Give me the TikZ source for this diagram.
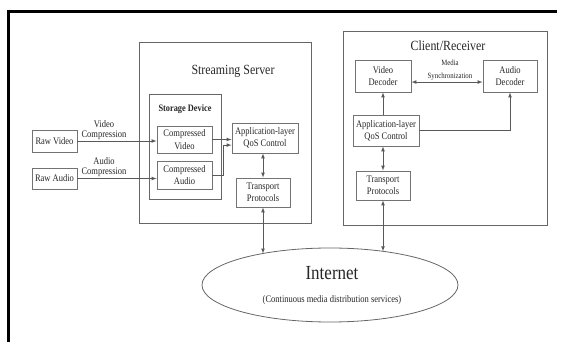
\documentclass[tikz,border=0pt]{standalone}
\usepackage{fontspec}
\setmainfont{Liberation Serif}[FakeStretch=0.85]
\usetikzlibrary{arrows,shapes.geometric}

\begin{document}
\begin{tikzpicture}[x=1pt,y=-1pt,>=latex,
  blk/.style={draw=black!55,line width=0.8pt,inner sep=0pt,align=center,text=black!85,font=\fontsize{10}{12.3}\selectfont},
  lbl/.style={align=center,inner sep=0pt,text=black!85,font=\fontsize{10}{9.5}\selectfont},
  lnk/.style={draw=black!65,line width=0.7pt},
  ttl/.style={inner sep=0pt,text=black!85,font=\fontsize{14}{16}\selectfont}]
\useasboundingbox (0,0) rectangle (563,342);
\draw[line width=3pt] (8,342) -- (8,12) -- (557,12);
\draw[black!60,line width=0.8pt] (139,42) rectangle (311,223);
\draw[black!60,line width=0.8pt] (149,94) rectangle (221,199);
\draw[black!60,line width=0.8pt] (343,31) rectangle (547,225);
\node[ttl] (ttls) at (233,71) {Streaming Server};
\node[ttl] (ttlc) at (448,46) {Client/Receiver};
\node[lbl,font=\fontsize{9.8}{10}\selectfont\bfseries] (store) at (185,109) {Storage Device};
\node[blk,minimum width=45,minimum height=22] (rawv) at (54.5,141) {Raw Video};
\node[blk,minimum width=45,minimum height=21] (rawa) at (54.5,178.5) {Raw Audio};
\node[blk,minimum width=55,minimum height=27] (compv) at (184.5,139.5) {Compressed\\Video};
\node[blk,minimum width=55,minimum height=28] (compa) at (184.5,175) {Compressed\\Audio};
\node[lbl] (lblv) at (104,130) {Video\\Compression};
\node[lbl] (lbla) at (104,167) {Audio\\Compression};
\node[blk,minimum width=66,minimum height=30] (apps) at (265,138) {Application-layer\\QoS Control};
\node[blk,minimum width=54,minimum height=29] (transs) at (263,192.5) {Transport\\Protocols};
\node[blk,minimum width=56,minimum height=32] (vdec) at (383,76) {Video\\Decoder};
\node[blk,minimum width=54,minimum height=32] (adec) at (510,76) {Audio\\Decoder};
\node[lbl,font=\fontsize{8}{13}\selectfont] (sync) at (450,70) {Media\\Synchronization};
\node[blk,minimum width=66,minimum height=31] (appc) at (386,130.5) {Application-layer\\QoS Control};
\node[blk,minimum width=54,minimum height=29] (transc) at (383,185.5) {Transport\\Protocols};
\node[ellipse,draw=black!60,line width=0.8pt,minimum width=256,minimum height=74,inner sep=0pt] (net) at (330,285) {};
\node[inner sep=0pt,text=black!85,font=\fontsize{20}{22}\selectfont] (nett) at (332,273) {Internet};
\node[inner sep=0pt,text=black!85,font=\fontsize{10}{12}\selectfont] (netd) at (332,300) {(Continuous media distribution services)};
\coordinate (nets) at (263,253.5);
\coordinate (netc) at (383,251.3);
\draw[lnk,->] (rawv.east) -- (rawv.east -| compv.west);
\draw[lnk,->] (rawa.east) -- (rawa.east -| compa.west);
\draw[lnk,->] (compv.east) -- (compv.east -| apps.west);
\draw[lnk,->] (compa.east) -- (223,175) |- (apps.192);
\draw[lnk,<->] (transs.north) -- (transs.north |- apps.south);
\draw[lnk,<->] (transs.south) -- (nets);
\draw[lnk,<->] (vdec.-12) -- (vdec.-12 -| adec.west);
\draw[lnk,->] (vdec.south |- appc.north) -- (vdec.south);
\draw[lnk,->] (appc.east) -| (adec.south);
\draw[lnk,<->] (transc.north) -- (transc.north |- appc.south);
\draw[lnk,<->] (transc.south) -- (netc);
\end{tikzpicture}
\end{document}
